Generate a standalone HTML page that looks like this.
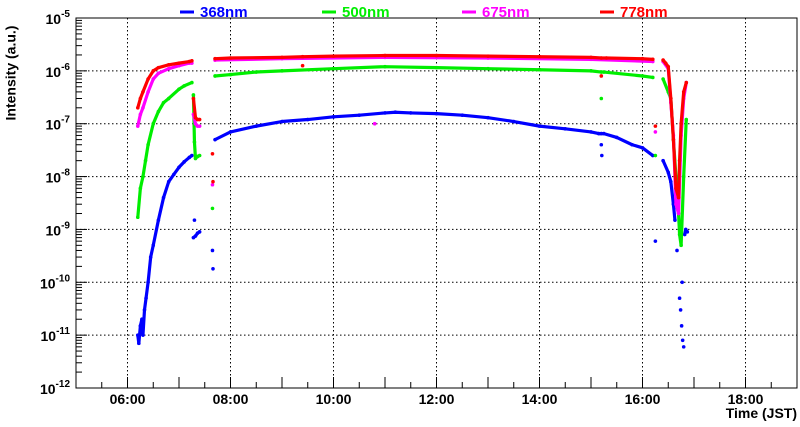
<!DOCTYPE html>
<html><head><meta charset="utf-8"><style>
body{margin:0;background:#fff;}
svg{display:block;font-family:"Liberation Sans",sans-serif;font-weight:bold;}
</style></head><body>
<svg id="c" width="800" height="427" viewBox="0 0 800 427">
<g id="grid"></g>
<g id="axes"></g>
<g id="series"></g>
<rect x="76" y="18" width="721" height="370" fill="none" stroke="#000" stroke-width="1"/>
<text x="12" y="73" transform="rotate(-90 12 73)" text-anchor="middle" dominant-baseline="middle" font-size="14">Intensity (a.u.)</text>
<text x="797" y="418" text-anchor="end" font-size="14">Time (JST)</text>
<g id="legend"></g>
</svg>
<script>
const xTicks=[6,8,10,12,14,16,18];
const xTickLabels=["06:00","08:00","10:00","12:00","14:00","16:00","18:00"];
const yExps=[-12,-11,-10,-9,-8,-7,-6,-5];
const seriesNames=["368nm","500nm","675nm","778nm"];
const seriesColors=["#0000ff","#00ee00","#ff00ff","#ff0000"];
// times (hours) and values; null breaks a segment
const t368=[6.2,6.22,6.25,6.28,6.3,6.33,6.36,6.4,6.45,6.5,6.6,6.7,6.8,6.9,7.0,7.1,7.2,7.25,null,7.28,7.32,7.36,7.4,null,7.3,null,7.65,null,7.66,null,7.7,8.0,8.5,9.0,9.5,10.0,10.5,11.0,11.2,11.5,12.0,12.5,13.0,13.5,14.0,14.5,15.0,15.15,15.2,15.25,15.5,15.8,16.0,16.2,null,15.2,null,15.21,null,16.25,null,16.4,16.5,16.55,16.6,16.63,null,16.67,null,16.72,null,16.74,null,16.76,null,16.78,null,16.8,null,16.77,null,16.82,16.84,16.87];
const v368=[1e-11,7e-12,1.5e-11,2e-11,1e-11,3e-11,5e-11,1e-10,3e-10,5e-10,1.5e-9,4e-9,8e-9,1.1e-8,1.5e-8,1.9e-8,2.3e-8,2.5e-8,null,7e-10,7.5e-10,8.5e-10,9e-10,null,1.5e-9,null,4e-10,null,1.8e-10,null,5e-8,7e-8,9e-8,1.1e-7,1.2e-7,1.35e-7,1.45e-7,1.6e-7,1.65e-7,1.6e-7,1.55e-7,1.45e-7,1.3e-7,1.1e-7,9e-8,8e-8,7e-8,6.5e-8,6.5e-8,6.5e-8,5.5e-8,4e-8,3.5e-8,2.5e-8,null,4e-8,null,2.5e-8,null,6e-10,null,2e-8,1.2e-8,8e-9,3e-9,1.5e-9,null,4e-10,null,5e-11,null,3e-11,null,1.5e-11,null,8e-12,null,6e-12,null,1e-10,null,8e-10,1e-9,9e-10];
const t500=[6.2,6.25,6.3,6.35,6.4,6.5,6.6,6.7,6.8,7.0,7.1,7.25,null,7.28,7.3,7.32,7.36,7.4,null,7.65,null,7.7,8.0,8.5,9.0,10.0,11.0,12.0,13.0,14.0,15.0,15.2,15.25,16.0,16.2,null,15.2,null,16.25,null,16.4,16.5,16.55,16.6,16.65,16.7,16.72,16.75,16.8,16.85];
const v500=[1.7e-9,6e-9,1e-8,2e-8,4e-8,1e-7,1.7e-7,2.5e-7,3e-7,4.5e-7,5.2e-7,6e-7,null,3.5e-7,4.5e-8,2.2e-8,2.4e-8,2.5e-8,null,2.5e-9,null,8e-7,8.5e-7,9.5e-7,1e-6,1.1e-6,1.2e-6,1.15e-6,1.1e-6,1.05e-6,1e-6,9.5e-7,9.5e-7,8e-7,7.5e-7,null,3e-7,null,2.5e-8,null,7e-7,4e-7,3e-7,5e-8,1e-8,2e-9,8e-10,5e-10,1e-8,1.2e-7];
const t675=[6.2,6.25,6.3,6.4,6.5,6.6,6.8,7.0,7.2,7.25,null,7.28,7.32,7.36,7.4,null,7.65,null,7.7,9.0,11.0,13.0,15.0,16.2,null,10.8,null,16.25,null,16.4,16.5,16.55,16.6,16.65,16.7,16.75,16.8,16.85];
const v675=[9e-8,1.5e-7,2e-7,4e-7,7e-7,9e-7,1.1e-6,1.25e-6,1.4e-6,1.4e-6,null,1.5e-7,1e-7,9e-8,9e-8,null,7e-9,null,1.6e-6,1.7e-6,1.8e-6,1.75e-6,1.65e-6,1.5e-6,null,1e-7,null,7e-8,null,1.5e-6,1.1e-6,2.5e-7,6e-8,3e-9,2e-9,6e-8,3e-7,6e-7];
const t778=[6.2,6.25,6.3,6.4,6.5,6.6,6.8,7.0,7.2,7.25,null,7.28,7.32,7.36,7.4,null,7.65,null,7.66,null,7.7,8.0,9.0,9.4,10.0,11.0,12.0,13.0,14.0,15.0,15.2,15.3,16.0,16.2,null,9.4,null,15.2,null,16.25,null,16.4,16.45,16.5,16.55,16.6,16.65,16.7,16.72,16.75,16.8,16.85];
const v778=[2e-7,3e-7,4e-7,7e-7,1e-6,1.15e-6,1.3e-6,1.4e-6,1.5e-6,1.55e-6,null,3e-7,1.3e-7,1.2e-7,1.2e-7,null,2.7e-8,null,8e-9,null,1.7e-6,1.75e-6,1.8e-6,1.85e-6,1.9e-6,1.95e-6,1.95e-6,1.9e-6,1.85e-6,1.8e-6,1.75e-6,1.75e-6,1.7e-6,1.65e-6,null,1.25e-6,null,8e-7,null,9e-8,null,1.6e-6,1.4e-6,1.2e-6,3e-7,5e-8,6e-9,4e-9,2e-8,1e-7,4e-7,6e-7];

const NS="http://www.w3.org/2000/svg";
const X0=76,X1=797,Y0=18,Y1=388,TMIN=5,TMAX=19,EMIN=-12,EMAX=-5;
function xs(t){return X0+(t-TMIN)/(TMAX-TMIN)*(X1-X0);}
function ys(v){return Y1-(Math.log10(v)-EMIN)/(EMAX-EMIN)*(Y1-Y0);}
function mk(tag,attrs,parent){const e=document.createElementNS(NS,tag);for(const k in attrs)e.setAttribute(k,attrs[k]);parent.appendChild(e);return e;}
const grid=document.getElementById('grid'),axes=document.getElementById('axes'),ser=document.getElementById('series'),leg=document.getElementById('legend');
for(let h=TMIN+0.5;h<TMAX;h+=0.5){
  const x=xs(h);const major=Number.isInteger(h);
  const tk=mk('line',{x1:x,x2:x,y1:Y1,y2:Y1-(major?11:6),stroke:'#000'},axes);
  
  
}
xTicks.forEach((h,i)=>{
  const x=xs(h);
  const g=mk('line',{x1:x,x2:x,y1:Y0,y2:Y1,stroke:'#000','stroke-dasharray':'1.5 2.5','stroke-width':1},grid);
  
  
  const t=mk('text',{x:x,y:404,'text-anchor':'middle','font-size':14},axes);t.textContent=xTickLabels[i];
  
  
});
yExps.forEach(e=>{
  const y=ys(Math.pow(10,e));
  if(e>EMIN&&e<EMAX){const g=mk('line',{x1:X0,x2:X1,y1:y,y2:y,stroke:'#000','stroke-dasharray':'1.5 2.5'},grid);
  
  }
  const tk=mk('line',{x1:X0,x2:X0+11,y1:y,y2:y,stroke:'#000'},axes);
  
  
  if(e<EMAX){for(let m=2;m<10;m++){const ym=ys(m*Math.pow(10,e));const mt=mk('line',{x1:X0,x2:X0+6,y1:ym,y2:ym,stroke:'#000'},axes);
    
    }}
  const t=mk('text',{x:X0-6,y:y+6,'text-anchor':'end','font-size':14},axes);
  
  
  const b=document.createElementNS(NS,'tspan');b.textContent='10';t.appendChild(b);
  const s=document.createElementNS(NS,'tspan');s.setAttribute('font-size','10');s.setAttribute('dy','-7');s.textContent=String(e);t.appendChild(s);
});
const allT=[t368,t500,t675,t778],allV=[v368,v500,v675,v778];
allT.forEach((T,si)=>{
  const col=seriesColors[si];
  const g=mk('g',{},ser);
  
  
  let seg=[];
  const flush=()=>{
    if(seg.length>1){const p=mk('polyline',{points:seg.map(q=>q.join(',')).join(' '),fill:'none',stroke:col,'stroke-width':3.2,'stroke-linecap':'round','stroke-linejoin':'round'},g);
      
      }
    seg=[];
  };
  T.forEach((t,i)=>{
    const v=allV[si][i];
    if(t===null||v===null){flush();return;}
    const x=xs(t),y=ys(v);seg.push([x,y]);
    const c=mk('circle',{cx:x,cy:y,r:1.8,fill:col},g);
    
    
  });
  flush();
});
const legX=[180,322,462,600];
seriesNames.forEach((n,i)=>{
  const g=mk('g',{},leg);
  
  
  mk('line',{x1:legX[i],x2:legX[i]+14,y1:12,y2:12,stroke:seriesColors[i],'stroke-width':3},g);
  const t=mk('text',{x:legX[i]+20,y:17,'font-size':15,fill:seriesColors[i]},g);t.textContent=n;
});
</script>
</body></html>
